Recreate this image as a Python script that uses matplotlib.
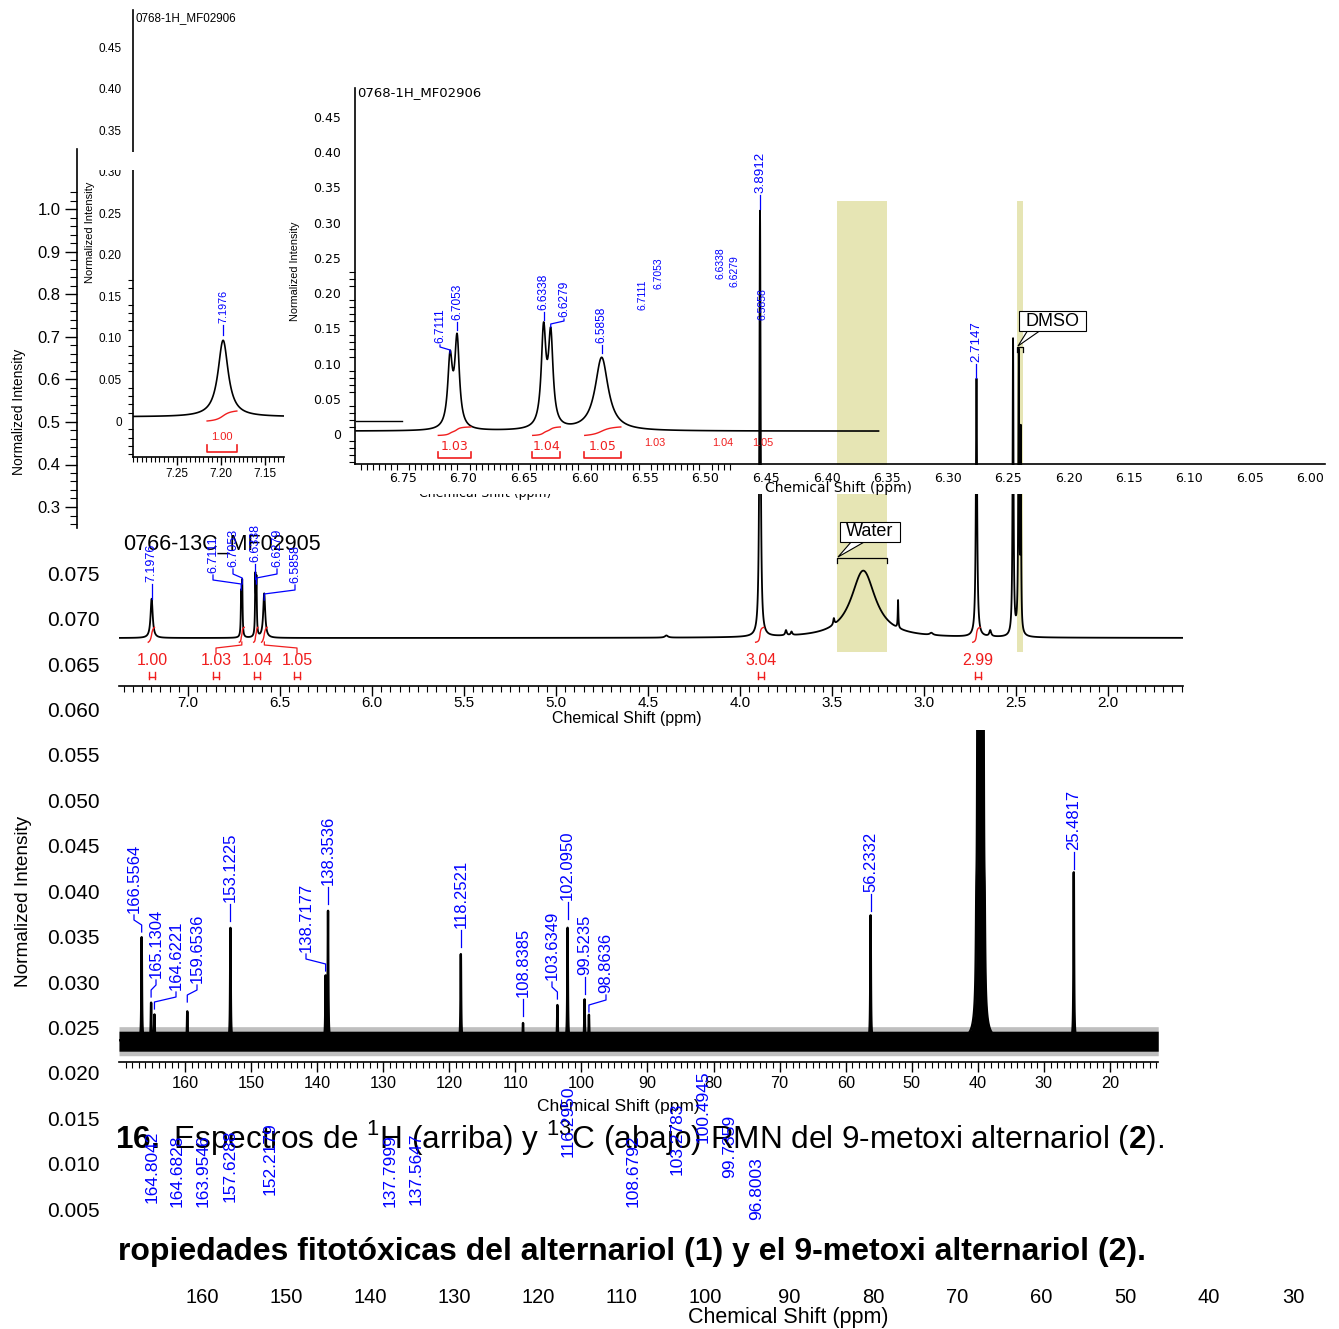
import numpy as np
import matplotlib
matplotlib.use("Agg")
import matplotlib.pyplot as plt
from matplotlib import font_manager
from matplotlib.patches import Rectangle, Polygon
from matplotlib.ticker import FixedLocator, MultipleLocator, FuncFormatter, FormatStrFormatter

W, H = 1339, 1329

# ---------------- 1H (DMSO-d6) ----------------
# peak position (ppm), height (normalised to the OCH3 singlet), half width (ppm)
h_ppm = [7.1976, 6.7111, 6.7053, 6.6338, 6.6279, 6.5858, 4.40, 3.8912, 3.75, 3.72,
         3.49, 3.33, 3.141, 2.96, 2.7147, 2.64, 2.516, 2.485, 2.474]
h_amp = [0.092, 0.097, 0.125, 0.136, 0.127, 0.104, 0.005, 1.0, 0.012, 0.008,
         0.015, 0.158, 0.065, 0.005, 0.606, 0.014, 0.695, 0.657, 0.45]
h_hwhm = [0.007, 0.0023, 0.0023, 0.0023, 0.0023, 0.0065, 0.01, 0.004, 0.005, 0.005,
          0.004, 0.08, 0.002, 0.01, 0.004, 0.006, 0.003, 0.003, 0.002]

h_int_ranges = [(7.216, 7.182), (6.721, 6.694), (6.643, 6.620), (6.600, 6.570),
                (3.915, 3.870), (2.735, 2.695)]
h_int_values = [1.00, 1.03, 1.04, 1.05, 3.04, 2.99]

water_range = (3.473, 3.201)
dmso_h_range = (2.495, 2.462)

exp_a_offset = 0.005     # 7.2 ppm expansion baseline
exp_b_offset = 0.004     # 6.8-6.0 ppm expansion baseline
stray_ppm = [6.789, 6.751]
stray_val = [0.018, 0.018]

# ---------------- 13C (DMSO-d6) ----------------
c_ppm = [166.5564, 165.1304, 164.6221, 159.6536, 153.1225, 138.7177, 138.3536, 118.2521,
         108.8385, 103.6349, 102.0950, 99.5235, 98.8636, 56.2332, 25.4817]
c_top = [0.0350, 0.0277, 0.0264, 0.0268, 0.0360, 0.0305, 0.0378, 0.0331,
         0.0255, 0.0275, 0.0361, 0.0281, 0.0264, 0.0374, 0.0421]
c_base = 0.0236
c_noise = (0.0224, 0.0246)
c_dmso_ppm = [40.23, 40.02, 39.81, 39.60, 39.39, 39.18, 38.97]
c_dmso_amp = [0.0065, 0.04, 0.08, 0.10, 0.08, 0.04, 0.0065]
c_dmso_hwhm = 0.08
c_hwhm = 0.05

# shifts of alternariol (1) left printed on the page
c_old_ppm = [164.8042, 164.6828, 163.9546, 157.6288, 152.2179, 137.7999, 137.5647,
             116.2950, 108.6792, 103.2783, 100.4945, 99.7359, 96.8003]

BLUE = "#0000ff"
RED = "#f01e1e"
YELLOW = "#e6e5b4"

plt.rcParams["font.family"] = ["Liberation Sans", "DejaVu Sans"]
plt.rcParams["mathtext.fontset"] = "custom"
plt.rcParams["mathtext.rm"] = "Liberation Sans"
plt.rcParams["mathtext.bf"] = "Liberation Sans:bold"
plt.rcParams["path.simplify"] = False

names = {f.name for f in font_manager.fontManager.ttflist}
HAS_NARROW = "Liberation Sans Narrow" in names


def peak_font(size):
    if HAS_NARROW:
        return dict(family="Liberation Sans Narrow", fontsize=size * 1.22)
    return dict(family="Liberation Sans", fontsize=size)


def lorentz(x, pos, amp, hw):
    y = np.zeros_like(x)
    for p, a, w in zip(pos, amp, hw):
        y += a / (1 + ((x - p) / w) ** 2)
    return y


fig = plt.figure(figsize=(W / 100, H / 100), dpi=100)
fig.patch.set_facecolor("white")


def layer(x0, y0, x1, y1, z, xcal, ycal):
    ax = fig.add_axes([x0 / W, 1 - y1 / H, (x1 - x0) / W, (y1 - y0) / H], zorder=z)
    ax.patch.set_visible(False)
    va, pa, vb, pb = xcal
    k = (vb - va) / (pb - pa)
    ax.set_xlim(va + (x0 - pa) * k, va + (x1 - pa) * k)
    va, pa, vb, pb = ycal
    k = (vb - va) / (pb - pa)
    ax.set_ylim(va + (y1 - pa) * k, va + (y0 - pa) * k)
    for s in ax.spines.values():
        s.set_visible(False)
    return ax


def show(ax, sides, lw=1.2):
    for s in sides:
        ax.spines[s].set_visible(True)
        ax.spines[s].set_linewidth(lw)


def px_of(ax, xv, yv):
    dx, dy = ax.transData.transform((xv, yv))
    return dx, H - dy


def ftext(ax, x, y, s, **kw):
    return ax.text(x / W, 1 - y / H, s, transform=fig.transFigure, clip_on=False, **kw)


def fline(ax, xs, ys, **kw):
    ax.plot([x / W for x in xs], [1 - y / H for y in ys], transform=fig.transFigure,
            clip_on=False, **kw)


def frect(ax, x0, y0, x1, y1, **kw):
    ax.add_artist(Rectangle((x0 / W, 1 - y1 / H), (x1 - x0) / W, (y1 - y0) / H,
                            transform=fig.transFigure, clip_on=False, **kw))


def shift_label(ax, ppm, top, lx, lb, size, legs=(5, 5, 7), snap=4, lw=0.9):
    px, _ = px_of(ax, ppm, top)
    a, b, c = legs
    y0 = lb + 2
    if abs(px - lx) < snap:
        lx = px
        fline(ax, [lx, lx], [y0, y0 + a + b + c], color=BLUE, lw=lw)
    else:
        fline(ax, [lx, lx, px, px], [y0, y0 + a, y0 + a + b, y0 + a + b + c], color=BLUE, lw=lw)
    ftext(ax, lx, lb, f"{ppm:.4f}", rotation=90, ha="center", va="bottom", color=BLUE,
          **peak_font(size))


def integral_curve(ax, x, y, base, rng, y0, height):
    m = (x <= rng[0]) & (x >= rng[1])
    xs = x[m]
    ys = np.clip(y[m] - base, 0, None)
    cum = np.cumsum(ys[::-1])[::-1]
    ax.plot(xs, y0 + height * cum / cum[0], color=RED, lw=1.0)


zero_fmt = FuncFormatter(lambda v, p: "0" if abs(v) < 1e-9 else f"{v:.2f}")

# ---------- caption (under everything) ----------
cap = fig.add_axes([0, 0, 1, 1], zorder=1.5)
cap.axis("off")
ftext(cap, 115, 1148,
      r"$\mathbf{16.}$ Espectros de $^{1}$H (arriba) y $^{13}$C (abajo) RMN del 9-metoxi alternariol ($\mathbf{2}$).",
      fontsize=22.7, va="baseline", ha="left")
ftext(cap, 118, 1260, "ropiedades fitotóxicas del alternariol (1) y el 9-metoxi alternariol (2).",
      fontsize=23, fontweight="bold", va="baseline", ha="left")

# ---------- 13C spectrum ----------
axB = layer(119, 730, 1158, 1062, 1.8, (160, 185, 20, 1110), (0.055, 755, 0.020, 1073))
show(axB, ["bottom"])
xc = np.arange(12.7, 170.0, 0.01)
yc = c_base + lorentz(xc, c_ppm, [t - c_base for t in c_top], [c_hwhm] * len(c_ppm))
yc += lorentz(xc, c_dmso_ppm, c_dmso_amp, [c_dmso_hwhm] * len(c_dmso_ppm))
axB.fill_between(xc, c_noise[0] - 0.0005, c_noise[1] + 0.0005, color="k", alpha=0.25, lw=0)
axB.fill_between(xc, c_noise[0], np.maximum(yc, c_noise[1]), color="k", lw=0)
axB.plot(xc, yc, color="k", lw=1.7)
axB.set_yticks([])
axB.xaxis.set_major_locator(MultipleLocator(10))
axB.xaxis.set_minor_locator(MultipleLocator(1))
axB.xaxis.set_major_formatter(FormatStrFormatter("%d"))
axB.tick_params(axis="x", which="major", length=7, width=1, labelsize=11.7, pad=3)
axB.tick_params(axis="x", which="minor", length=4, width=0.8)
ftext(axB, 618, 1106, "Chemical Shift (ppm)", fontsize=12.5, ha="center", va="center")
c_lab = [(134, 913), (156, 978), (176, 990), (197, 983), (232, 902), (306, 952), (329, 885),
         (462, 928), (525, 997), (552, 980), (570, 900), (587, 975), (606, 993), (872, 892),
         (1074, 850)]
for p, t, (lx, lb) in zip(c_ppm, c_top, c_lab):
    shift_label(axB, p, t, lx, lb, 12, legs=(5, 5, 7))
frect(axB, 101, 1068, 117, 1098, fc="white", ec="none", zorder=10)

# ---------- page axis of the 13C figure ----------
axA = layer(104, 560, 1330, 1284, 2, (160, 202, 30, 1293), (0.055, 755, 0.020, 1073))
axA.set_yticks(np.arange(0.005, 0.0751, 0.005))
axA.yaxis.set_major_formatter(FormatStrFormatter("%.3f"))
axA.set_xticks(np.arange(30, 161, 10))
axA.xaxis.set_major_formatter(FormatStrFormatter("%d"))
axA.tick_params(axis="y", length=0, labelsize=15, pad=3)
axA.tick_params(axis="x", length=0, labelsize=14.5, pad=3)
ftext(axA, 24, 901, "Normalized Intensity", rotation=90, fontsize=13.7, ha="center", va="center")
ftext(axA, 788, 1318, "Chemical Shift (ppm)", fontsize=15.5, ha="center", va="center")
ftext(axA, 123, 544, "0766-13C_MF02905", fontsize=15.5, ha="left", va="center")
old_lab = [(152, 1203), (177, 1207), (203, 1207), (230, 1202), (270, 1195), (390, 1207),
           (416, 1205), (568, 1157), (633, 1207), (677, 1175), (703, 1143), (730, 1178),
           (757, 1220)]
for p, (lx, lb) in zip(c_old_ppm, old_lab):
    ftext(axA, lx, lb, f"{p:.4f}", rotation=90, ha="center", va="bottom", color=BLUE,
          **peak_font(12.5))

# ---------- 1H full spectrum ----------
axC = layer(119, 201, 1183, 686, 4, (7.0, 188, 2.0, 1108), (0.0, 638, 1.0, 212))
show(axC, ["bottom"])
xh = np.sort(np.concatenate([np.arange(1.59, 7.38, 0.0005), h_ppm]))
yh = lorentz(xh, h_ppm, h_amp, h_hwhm)
band_lo = (686 - 652) / (686 - 201)
axC.axvspan(water_range[0], water_range[1], ymin=band_lo, ymax=1, color=YELLOW, lw=0, zorder=0.5)
axC.axvspan(dmso_h_range[0], dmso_h_range[1], ymin=band_lo, ymax=1, color=YELLOW, lw=0, zorder=0.5)
axC.plot(xh, yh, color="k", lw=1.3)
axC.set_yticks([])
axC.set_xticks(np.arange(2.0, 7.01, 0.5))
axC.xaxis.set_major_formatter(FormatStrFormatter("%.1f"))
axC.xaxis.set_minor_locator(MultipleLocator(0.05))
axC.tick_params(axis="x", which="major", length=7, width=1, labelsize=11, pad=0.5)
axC.tick_params(axis="x", which="minor", length=4, width=0.8)
ftext(axC, 627, 719, "Chemical Shift (ppm)", fontsize=11.5, ha="center", va="center")
ftext(axC, 485, 493, "Chemical Shift (ppm)", fontsize=9, family="DejaVu Sans", ha="center", va="center")

full_lab = {7.1976: (153, 582), 6.7111: (213, 573), 6.7053: (233, 567), 6.6338: (254, 562),
            6.6279: (277, 567), 6.5858: (295, 583), 3.8912: (762, 193), 2.7147: (978, 362)}
for p, (lx, lb) in full_lab.items():
    top = lorentz(np.array([p]), h_ppm, h_amp, h_hwhm)[0]
    size = 9.6 if p < 5 else 9
    legs = (5, 4, 6) if p > 5 else (5, 4, 5)
    shift_label(axC, p, top, lx, lb, size, legs=legs)

int_lab_x = [152, 216, 257, 297, 761, 978]
for rng, val, lx in zip(h_int_ranges, h_int_values, int_lab_x):
    integral_curve(axC, xh, yh, 0.0, rng, -0.010, 0.035)
    ftext(axC, lx, 661, f"{val:.2f}", color=RED, fontsize=11.5, ha="center", va="center")
    fline(axC, [lx - 3, lx - 3], [672, 679], color=RED, lw=1.0)
    fline(axC, [lx + 3, lx + 3], [672, 679], color=RED, lw=1.0)
    fline(axC, [lx - 3, lx + 3], [677, 677], color=RED, lw=1.0)
    cx, _ = px_of(axC, 0.5 * (rng[0] + rng[1]), 0)
    if abs(cx - lx) > 4:
        fline(axC, [lx, lx, cx, cx], [653, 648, 645, 642], color=RED, lw=0.9)

# solvent call-outs
axC.add_artist(Polygon([(852 / W, 1 - 541 / H), (838 / W, 1 - 557 / H), (866 / W, 1 - 541 / H)],
                       closed=True, transform=fig.transFigure, fc="white", ec="k", lw=0.8,
                       clip_on=False, zorder=6))
frect(axC, 840, 522, 900, 542, fc="white", ec="k", lw=0.8, zorder=7)
ftext(axC, 870, 532, "Water", fontsize=13, ha="center", va="center", zorder=8)
wl, _ = px_of(axC, water_range[0], 0)
wr, _ = px_of(axC, water_range[1], 0)
fline(axC, [wl, wl, wr, wr], [563, 558, 558, 563], color="k", lw=0.9)

axC.add_artist(Polygon([(1028 / W, 1 - 330 / H), (1018 / W, 1 - 346 / H), (1041 / W, 1 - 330 / H)],
                       closed=True, transform=fig.transFigure, fc="white", ec="k", lw=0.8,
                       clip_on=False, zorder=6))
frect(axC, 1019, 311, 1086, 331, fc="white", ec="k", lw=0.8, zorder=7)
ftext(axC, 1052.5, 321, "DMSO", fontsize=13, ha="center", va="center", zorder=8)
dl, _ = px_of(axC, dmso_h_range[0], 0)
dr, _ = px_of(axC, dmso_h_range[1], 0)
fline(axC, [dl, dl, dr, dr], [352, 347, 347, 352], color="k", lw=0.9)

# left intensity axis of the full spectrum
axL = layer(77, 149, 107, 528, 4, (0, 77, 1, 107), (1.0, 209.5, 0.3, 507))
show(axL, ["left"])
axL.set_xticks([])
axL.set_yticks(np.arange(0.3, 1.01, 0.1))
axL.yaxis.set_major_formatter(FormatStrFormatter("%.1f"))
axL.yaxis.set_minor_locator(FixedLocator(np.arange(0.26, 1.045, 0.02)))
axL.tick_params(axis="y", which="major", length=9, width=1, labelsize=12, pad=3)
axL.tick_params(axis="y", which="minor", length=5, width=0.8)
ftext(axL, 19, 412, "Normalized Intensity", rotation=90, fontsize=10, ha="center", va="center")

# white strip under the 6.x expansion axis
cover = fig.add_axes([0, 0, 1, 1], zorder=5)
cover.axis("off")
frect(cover, 355, 465, 1335, 494, fc="white", ec="none")

# ---------- expansion 6.8-6.0 ppm ----------
axD = layer(355, 88, 1325, 464, 6, (6.75, 403, 6.45, 766), (0.0, 434, 0.45, 117))
show(axD, ["left", "bottom"])
xd = np.arange(6.357, 6.789, 0.0002)
yd = exp_b_offset + lorentz(xd, h_ppm, h_amp, h_hwhm)
axD.plot(xd, yd, color="k", lw=1.2)
axD.plot(stray_ppm, stray_val, color="k", lw=1.0)
axD.set_yticks(np.arange(0, 0.451, 0.05))
axD.yaxis.set_major_formatter(zero_fmt)
axD.yaxis.set_minor_locator(FixedLocator(np.arange(-0.04, 0.235, 0.01)))
axD.set_xticks(np.arange(6.0, 6.751, 0.05))
axD.xaxis.set_major_formatter(FormatStrFormatter("%.2f"))
axD.xaxis.set_minor_locator(FixedLocator(np.arange(6.48, 6.79, 0.005)))
axD.tick_params(which="major", length=0, labelsize=9, pad=10)
axD.tick_params(axis="x", which="major", pad=6)
for t in axD.get_xticklabels() + axD.get_yticklabels():
    t.set_family("DejaVu Sans")
axD.tick_params(which="minor", length=4, width=0.8)
ftext(axD, 839, 488, "Chemical Shift (ppm)", fontsize=10, family="DejaVu Sans", ha="center", va="center")
ftext(axD, 357, 93, "0768-1H_MF02906", fontsize=9.5, family="DejaVu Sans", ha="left", va="center")
ftext(axD, 295, 271, "Normalized Intensity", rotation=90, ha="center", va="center", **peak_font(7.8))

exp_lab = {6.7111: (440, 343), 6.7053: (460, 320), 6.6338: (546, 310), 6.6279: (564, 317),
           6.5858: (603, 343)}
for p, (lx, lb) in exp_lab.items():
    top = exp_b_offset + lorentz(np.array([p]), h_ppm, h_amp, h_hwhm)[0]
    shift_label(axD, p, top, lx, lb, 8.6, legs=(2, 3, 3))
ghost_lab = [(643, 310), (658, 289), (720, 279), (734, 287), (762, 320)]
for p, (lx, lb) in zip(exp_lab.keys(), ghost_lab):
    ftext(axD, lx, lb, f"{p:.4f}", rotation=90, ha="center", va="bottom", color=BLUE, fontsize=7.5)
for rng, val, gx in zip(h_int_ranges[1:4], h_int_values[1:4], [655, 723, 763]):
    integral_curve(axD, xd, yd, exp_b_offset, rng, -0.002, 0.012)
    xl, _ = px_of(axD, rng[0], 0)
    xr, _ = px_of(axD, rng[1], 0)
    fline(axD, [xl, xl, xr, xr], [452, 458, 458, 452], color=RED, lw=1.2)
    ftext(axD, 0.5 * (xl + xr), 446, f"{val:.2f}", color=RED, fontsize=9, family="DejaVu Sans",
          ha="center", va="center")
    ftext(axD, gx, 443, f"{val:.2f}", color=RED, fontsize=7.8, ha="center", va="center")

# ---------- expansion 7.2 ppm ----------
axE = layer(133, 10, 284, 457, 6, (7.25, 177, 7.15, 265), (0.0, 421, 0.45, 47))
show(axE, ["left", "bottom"])
xe = np.arange(7.128, 7.30, 0.0002)
ye = exp_a_offset + lorentz(xe, h_ppm, h_amp, h_hwhm)
axE.plot(xe, ye, color="k", lw=1.2)
axE.set_yticks(np.arange(0, 0.451, 0.05))
axE.yaxis.set_major_formatter(zero_fmt)
axE.yaxis.set_minor_locator(FixedLocator(np.arange(-0.04, 0.175, 0.01)))
axE.set_xticks([7.15, 7.20, 7.25])
axE.xaxis.set_major_formatter(FormatStrFormatter("%.2f"))
axE.xaxis.set_minor_locator(MultipleLocator(0.005))
axE.tick_params(axis="y", which="major", length=0, labelsize=8.5, pad=8)
axE.tick_params(axis="x", which="major", length=6, width=1, labelsize=8.5, pad=2)
axE.tick_params(which="minor", length=3.5, width=0.8)
ftext(axE, 135, 18, "0768-1H_MF02906", fontsize=8.4, ha="left", va="center")
ftext(axE, 90, 232, "Normalized Intensity", rotation=90, fontsize=8, ha="center", va="center")
top_e = exp_a_offset + lorentz(np.array([7.1976]), h_ppm, h_amp, h_hwhm)[0]
shift_label(axE, 7.1976, top_e, 224, 323, 7.8, legs=(3, 3, 4))
integral_curve(axE, xe, ye, exp_a_offset, h_int_ranges[0], 0.0, 0.012)
xl, _ = px_of(axE, h_int_ranges[0][0], 0)
xr, _ = px_of(axE, h_int_ranges[0][1], 0)
fline(axE, [xl, xl, xr, xr], [445, 452, 452, 445], color=RED, lw=1.2)
ftext(axE, 0.5 * (xl + xr), 437, f"{h_int_values[0]:.2f}", color=RED, fontsize=8, ha="center", va="center")

# gap in the 7.2 ppm panel
gap = fig.add_axes([0, 0, 1, 1], zorder=7)
gap.axis("off")
frect(gap, 88, 152, 141, 170, fc="white", ec="none")

fig.savefig("out.png", dpi=100, facecolor="white")
